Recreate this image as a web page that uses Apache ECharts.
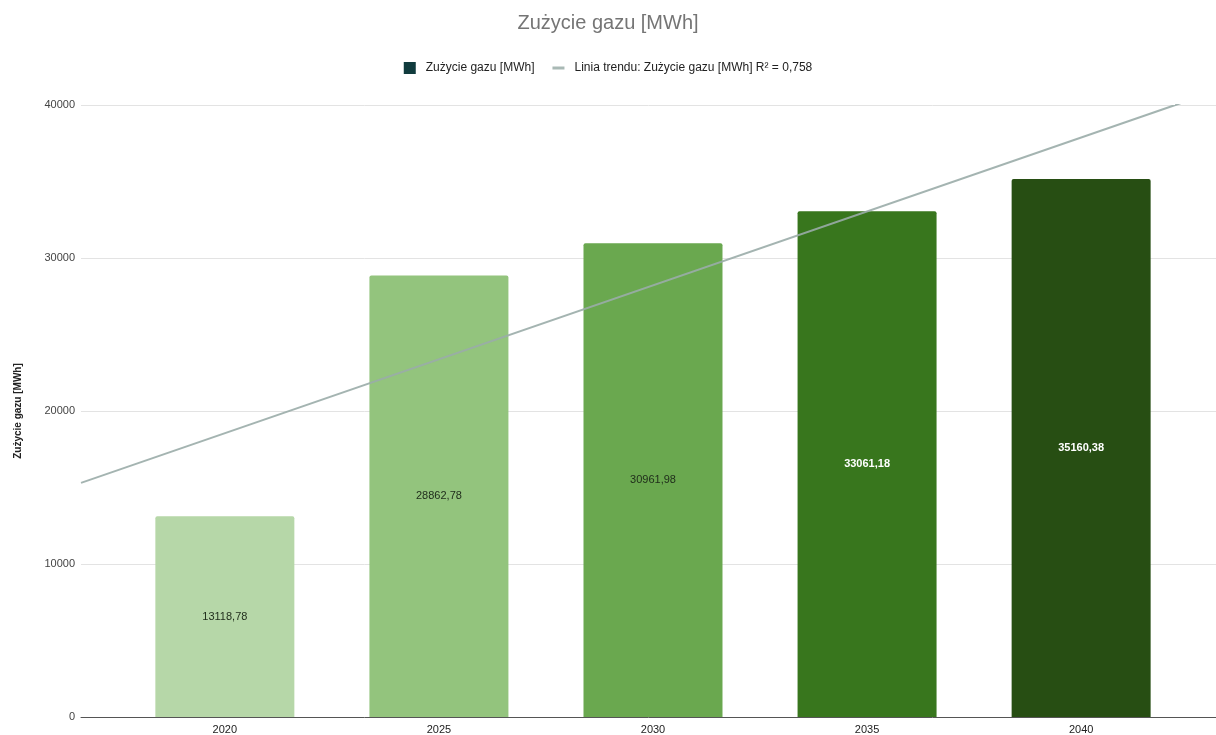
<!DOCTYPE html>
<html>
<head>
<meta charset="utf-8">
<script src="https://cdn.jsdelivr.net/npm/echarts@6/dist/echarts.min.js"></script>
<style>
html,body{margin:0;padding:0;background:#fff;}
#chart{width:1216px;height:735px;}
</style>
</head>
<body>
<div id="chart"></div>
<script>
const years = [2020, 2025, 2030, 2035, 2040];
const gasValues = [13118.78, 28862.78, 30961.98, 33061.18, 35160.38];
const barColors = ['#b6d7a8', '#93c47d', '#6aa84f', '#38761d', '#274e13'];
const labelColors = ['#1e2b1a', '#1e2b1a', '#1e2b1a', '#ffffff', '#ffffff'];
// trend line endpoints (year, value)
const trendPoints = [[2016.64, 15300], [2042.2, 40000], [2043.15, 40930]];
const yTicks = [0, 10000, 20000, 30000, 40000];

const seriesName = 'Zużycie gazu [MWh]';
const trendName = 'Linia trendu: Zużycie gazu [MWh] R² = 0,758';

const fmt = v => v.toFixed(2).replace('.', ',');

const chart = echarts.init(document.getElementById('chart'));
chart.setOption({
  animation: false,
  textStyle: { fontFamily: 'Liberation Sans, Arial, sans-serif' },
  title: {
    text: 'Zużycie gazu [MWh]',
    left: 'center',
    top: 8,
    textStyle: { fontSize: 20, fontWeight: 'normal', color: '#757575' }
  },
  legend: {
    top: 57,
    left: 'center',
    itemWidth: 12,
    itemHeight: 12,
    itemGap: 18,
    symbolKeepAspect: true,
    textStyle: { fontSize: 12, color: '#222', padding: [0, 0, 0, 5] },
    data: [
      { name: seriesName, icon: 'rect' },
      { name: trendName, icon: 'path://M0,0h12v3h-12z', itemStyle: { color: '#a9b9b5' } }
    ]
  },
  grid: { left: 81, right: 0, top: 105, bottom: 18, containLabel: false },
  xAxis: {
    type: 'value',
    min: 2016.64,
    max: 2043.15,
    splitLine: { show: false },
    axisTick: { show: false },
    axisLine: { show: true, lineStyle: { color: '#555', width: 1 } },
    axisLabel: {
      customValues: years,
      margin: 7,
      fontSize: 11,
      color: '#222',
      formatter: v => String(Math.round(v))
    }
  },
  yAxis: {
    type: 'value',
    min: 0,
    max: 40000,
    interval: 10000,
    name: 'Zużycie gazu [MWh]',
    nameLocation: 'middle',
    nameGap: 58,
    nameTextStyle: { fontSize: 10, color: '#222', fontWeight: 'bold' },
    axisLine: { show: false },
    axisTick: { show: false },
    axisLabel: { margin: 6, fontSize: 11, color: '#444', formatter: v => String(v) },
    splitLine: { lineStyle: { color: '#e3e3e3', width: 1 } }
  },
  series: [
    {
      name: seriesName,
      type: 'bar',
      barWidth: 139,
      itemStyle: { color: '#103b3d', borderRadius: [2, 2, 0, 0] },
      data: years.map((y, i) => ({
        value: [y, gasValues[i]],
        itemStyle: { color: barColors[i], borderRadius: [2, 2, 0, 0] },
        label: {
          show: true,
          position: 'inside',
          formatter: () => fmt(gasValues[i]),
          fontSize: 11,
          color: labelColors[i],
          fontWeight: i >= 3 ? 'bold' : 'normal'
        }
      })),
      z: 2
    },
    {
      name: trendName,
      type: 'line',
      data: trendPoints,
      symbol: 'none',
      clip: true,
      lineStyle: { color: '#9aaca8', width: 2, opacity: 0.9 },
      itemStyle: { color: '#a9b9b5' },
      z: 3
    }
  ]
});
</script>
</body>
</html>
